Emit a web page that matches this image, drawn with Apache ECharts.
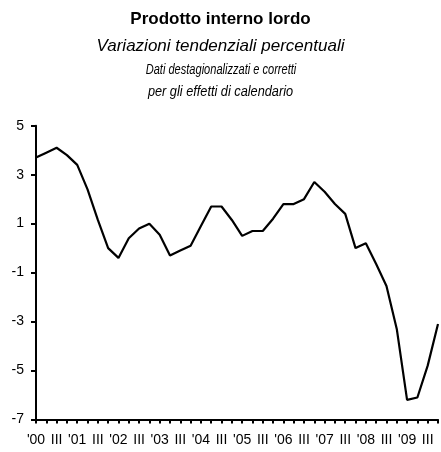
<!DOCTYPE html>
<html><head><meta charset="utf-8">
<script src="https://cdn.jsdelivr.net/npm/echarts@6/dist/echarts.min.js"></script>
<style>html,body{margin:0;padding:0;background:#fff}#c{width:441px;height:452px}</style>
</head><body><div id="c"></div>
<script>
// Years and quarters (2000 Q1 - 2009 Q4)
const years = ['00','01','02','03','04','05','06','07','08','09'];
const quarters = ['I','II','III','IV'];
// Category ids, e.g. "2000 I"
const categories = [];
years.forEach(y => quarters.forEach(q => categories.push('20' + y + ' ' + q)));
// Tick labels shown under the axis
const xTickLabels = [];
years.forEach(y => { xTickLabels.push("'" + y, '', 'III', ''); });

// GDP, year-on-year % change
const gdpGrowth = [
  3.7, 3.9, 4.1, 3.8,
  3.4, 2.4, 1.15, 0.0,
  -0.4, 0.4, 0.8, 1.0,
  0.55, -0.3, -0.1, 0.1,
  0.9, 1.7, 1.7, 1.15,
  0.5, 0.7, 0.7, 1.2,
  1.8, 1.8, 2.0, 2.7,
  2.3, 1.8, 1.4, 0.0,
  0.2, -0.65, -1.55, -3.3,
  -6.2, -6.1, -4.8, -3.1
];
const yMin = -7, yMax = 5, yStep = 2;

const titleLines = [
  'Prodotto interno lordo',
  'Variazioni tendenziali percentuali',
  'Dati destagionalizzati e corretti',
  'per gli effetti di calendario'
];

const font = 'Liberation Sans, Arial, sans-serif';
const chart = echarts.init(document.getElementById('c'), null, {renderer: 'canvas'});
chart.setOption({
  animation: false,
  backgroundColor: '#fff',
  title: [
    {text: titleLines[0], left: 'center', top: 11, padding: 0,
     textStyle: {fontFamily: font, fontSize: 17, fontWeight: 'bold', color: '#000'}},
    {text: titleLines[1], left: 'center', top: 38, padding: 0,
     textStyle: {fontFamily: font, fontSize: 17, fontStyle: 'italic', fontWeight: 'normal', color: '#000'}}
  ],
  graphic: [
    {type: 'text', x: 221, y: 70, scaleX: 0.79, silent: true,
     style: {text: titleLines[2], x: 0, y: 0, align: 'center', verticalAlign: 'middle',
             font: 'italic 14px "Liberation Sans", Arial, sans-serif', fill: '#000'}},
    {type: 'text', x: 220.5, y: 92, scaleX: 0.91, silent: true,
     style: {text: titleLines[3], x: 0, y: 0, align: 'center', verticalAlign: 'middle',
             font: 'italic 14px "Liberation Sans", Arial, sans-serif', fill: '#000'}}
  ],
  grid: {left: 36, right: -1.4, top: 125.7, bottom: 32.5, containLabel: false},
  xAxis: {
    type: 'category',
    data: categories,
    boundaryGap: false,
    axisLine: {onZero: false, lineStyle: {color: '#000', width: 2}},
    axisTick: {show: true, interval: 0, length: 4, lineStyle: {color: '#000', width: 2}},
    axisLabel: {interval: 0, color: '#000', fontFamily: font, fontSize: 14, margin: 14,
      formatter: (v, i) => xTickLabels[i]},
    splitLine: {show: false}
  },
  yAxis: {
    type: 'value',
    min: yMin, max: yMax, interval: yStep,
    axisLine: {show: true, lineStyle: {color: '#000', width: 2}},
    axisTick: {show: true, length: 5, lineStyle: {color: '#000', width: 2}},
    axisLabel: {color: '#000', fontFamily: font, fontSize: 14, margin: 12},
    splitLine: {show: false}
  },
  series: [{
    type: 'line',
    data: gdpGrowth,
    symbol: 'none',
    smooth: false,
    lineStyle: {color: '#000', width: 2.2},
    clip: true
  }]
});
</script></body></html>
